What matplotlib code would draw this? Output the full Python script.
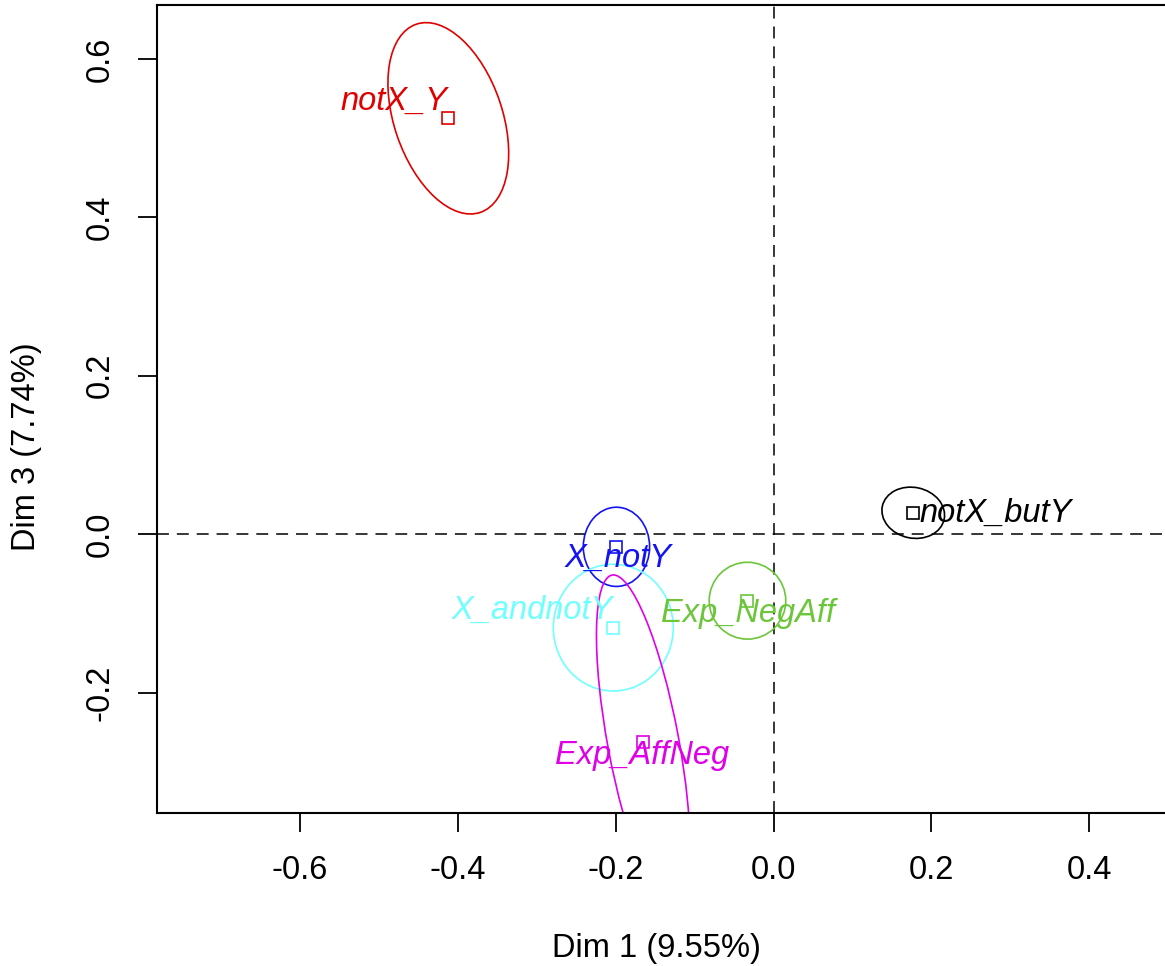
#!/usr/bin/env python
'''
MCA category map, Dim 1 vs Dim 3, with confidence ellipses
'''
import matplotlib
matplotlib.use('Agg')
import matplotlib.pyplot as plt
from matplotlib.patches import Ellipse

# category coordinates
labels = ['notX_Y', 'notX_butY', 'X_notY', 'X_andnotY', 'Exp_NegAff', 'Exp_AffNeg']
dim1 = [-0.412, 0.177, -0.199, -0.203, -0.033, -0.165]
dim3 = [0.525, 0.027, -0.016, -0.118, -0.084, -0.263]

# ellipse full axes and angle (deg)
ell_w = [0.251, 0.080, 0.084, 0.152, 0.097, 0.430]
ell_h = [0.137, 0.064, 0.100, 0.160, 0.097, 0.090]
ell_ang = [108.9, -12.0, 0.0, 0.0, 0.0, 100.6]

# where the text labels sit (centre)
lab_x = [-0.481, 0.282, -0.1975, -0.305, -0.032, -0.166]
lab_y = [0.547, 0.0265, -0.030, -0.096, -0.100, -0.279]

colors = ['#e00000', '#000000', '#1414f0', '#70ffff', '#6cc63a', '#e000e8']

plt.rcParams['font.family'] = ['Liberation Sans', 'DejaVu Sans']

fig = plt.figure(figsize=(11.65, 9.66), dpi=100)
ax = fig.add_axes([0.1348, 0.1584, 0.8752, 0.8364])

ax.axhline(0, color='k', lw=1.1, ls=(0, (7.8, 5.2)), zorder=1)
ax.axvline(0, color='k', lw=1.1, ls=(0, (7.8, 5.2)), zorder=1)

for i, lab in enumerate(labels):
    c = colors[i]
    e = Ellipse((dim1[i], dim3[i]), ell_w[i], ell_h[i], angle=ell_ang[i],
                fill=False, edgecolor=c, lw=1.2, zorder=2)
    ax.add_patch(e)
    ax.plot(dim1[i], dim3[i], 's', mfc='none', mec=c, ms=9, mew=1.2, zorder=3)
    ax.text(lab_x[i], lab_y[i], lab, color=c, fontsize=23.5, style='italic',
            ha='center', va='center', zorder=4)

ax.set_xlim(-0.781, 0.5107)
ax.set_ylim(-0.352, 0.668)
ax.set_xticks([-0.6, -0.4, -0.2, 0.0, 0.2, 0.4])
ax.set_yticks([-0.2, 0.0, 0.2, 0.4, 0.6])
ax.set_xticklabels(['-0.6', '-0.4', '-0.2', '0.0', '0.2', '0.4'])
ax.set_yticklabels(['-0.2', '0.0', '0.2', '0.4', '0.6'], rotation=90, va='center')
ax.tick_params(direction='out', length=14, width=1.3, labelsize=23.5, pad=16)
ax.spines['right'].set_visible(False)
for s in ['left', 'bottom', 'top']:
    ax.spines[s].set_linewidth(1.5)

ax.set_xlabel('Dim 1 (9.55%)', fontsize=23.5)
ax.xaxis.set_label_coords(0.49, -0.168)
ax.xaxis.label.set_va('center')
ax.set_ylabel('Dim 3 (7.74%)', fontsize=23.5)
ax.yaxis.set_label_coords(-0.128, 0.453)
ax.yaxis.label.set_va('center')

plt.savefig('out.png', dpi=100)
